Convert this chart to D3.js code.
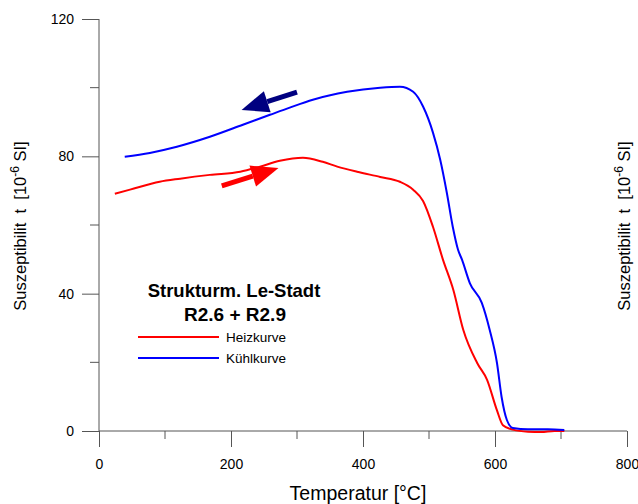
<!DOCTYPE html>
<html>
<head>
<meta charset="utf-8">
<script src="https://cdn.jsdelivr.net/npm/d3@7"></script>
<style>
  body { margin: 0; background: #fff; }
  svg { font-family: "Liberation Sans", Arial, sans-serif; }
  text { white-space: pre; }
</style>
</head>
<body>
<div id="vis"></div>
<script>
// Frame constants
const FRAME_WIDTH = 638;
const FRAME_HEIGHT = 504;
const MARGINS = {left: 99, right: 11, top: 19, bottom: 73};

// Data: heating curve (red)
const heatTemp = [24, 47, 92, 123, 168, 214, 244, 274, 309, 339, 361, 391, 426, 456, 476, 491,
                  506, 521, 537, 552, 573, 588, 603, 612, 627, 650, 670, 690, 705];
const heatSusc = [69.1, 70.3, 72.6, 73.5, 74.6, 75.5, 77, 78.7, 79.6, 78.4, 77, 75.5, 74, 72.6, 70.3, 67,
                  59.5, 50, 41, 29.4, 19.8, 14.9, 6, 1.7, 0.4, -0.2, -0.3, 0, 0];

// Data: cooling curve (blue)
const coolTemp = [39, 77, 118, 168, 218, 259, 289, 324, 376, 426, 456, 476, 491, 506, 517, 527,
                  536, 544, 550, 562, 580, 592, 603, 610, 618, 627, 650, 680, 705];
const coolSusc = [79.9, 81, 82.8, 85.7, 89.2, 92.1, 94.2, 96.5, 98.8, 100, 100.3, 98.8, 94.5, 86.9, 79, 69.4,
                  59.5, 52.8, 49.9, 43, 37.3, 29.4, 19.8, 9.9, 3.2, 0.9, 0.5, 0.5, 0.3];

// Tick values
const xTicks = [0, 200, 400, 600, 800];
const xMinor = [100, 300, 500, 700];
const yTicks = [0, 40, 80, 120];
const yMinor = [20, 60, 100];

// Direction arrows [tailT, tailS, tipT, tipS]
const coolArrow = [300, 98.7, 216, 93.5];
const heatArrow = [186, 71.4, 272, 76.6];

const VIS_WIDTH = FRAME_WIDTH - MARGINS.left - MARGINS.right;
const VIS_HEIGHT = FRAME_HEIGHT - MARGINS.top - MARGINS.bottom;

const FRAME = d3.select("#vis")
  .append("svg")
    .attr("width", FRAME_WIDTH)
    .attr("height", FRAME_HEIGHT);

const X_SCALE = d3.scaleLinear().domain([0, 800]).range([MARGINS.left, MARGINS.left + VIS_WIDTH]);
const Y_SCALE = d3.scaleLinear().domain([0, 120]).range([MARGINS.top + VIS_HEIGHT, MARGINS.top]);

const AXIS_COLOR = "#555";

// X axis
const xAxis = FRAME.append("g")
  .attr("transform", "translate(0," + Y_SCALE(0) + ")")
  .call(d3.axisBottom(X_SCALE).tickValues(xTicks).tickSize(16).tickPadding(12));
xAxis.selectAll(".tick line").attr("stroke", AXIS_COLOR);
xAxis.select(".domain").attr("stroke", AXIS_COLOR).attr("d", "M" + X_SCALE(0) + ",0H" + X_SCALE(800));
xAxis.selectAll("text").attr("font-size", "14px").attr("font-family", "Liberation Sans, Arial").attr("fill", "#000");
xAxis.selectAll(".minor")
  .data(xMinor)
  .enter()
  .append("line")
    .attr("x1", (d) => X_SCALE(d))
    .attr("x2", (d) => X_SCALE(d))
    .attr("y1", 0)
    .attr("y2", 8)
    .attr("stroke", AXIS_COLOR);

// Y axis
const yAxis = FRAME.append("g")
  .attr("transform", "translate(" + X_SCALE(0) + ",0)")
  .call(d3.axisLeft(Y_SCALE).tickValues(yTicks).tickSize(17).tickPadding(8));
yAxis.selectAll(".tick line").attr("stroke", AXIS_COLOR);
yAxis.select(".domain").attr("stroke", AXIS_COLOR).attr("d", "M0," + Y_SCALE(120) + "V" + Y_SCALE(0));
yAxis.selectAll("text").attr("font-size", "14px").attr("font-family", "Liberation Sans, Arial").attr("fill", "#000");
yAxis.selectAll(".minor")
  .data(yMinor)
  .enter()
  .append("line")
    .attr("x1", -9)
    .attr("x2", 0)
    .attr("y1", (d) => Y_SCALE(d))
    .attr("y2", (d) => Y_SCALE(d))
    .attr("stroke", AXIS_COLOR);

// Axis titles
FRAME.append("text")
  .attr("x", 358)
  .attr("y", 500)
  .attr("text-anchor", "middle")
  .attr("font-size", "19.5px")
  .text("Temperatur [°C]");

function yTitle(x) {
  const t = FRAME.append("text")
    .attr("transform", "translate(" + x + "," + 226 + ") rotate(-90)")
    .attr("text-anchor", "middle")
    .attr("font-size", "16.5px");
  t.append("tspan").text("Suszeptibilit  t  [10");
  t.append("tspan").attr("dy", -7).attr("font-size", "12px").text("-6");
  t.append("tspan").attr("dy", 7).text(" SI]");
}
yTitle(26);
yTitle(630);

// Curves
const line = d3.line()
  .x((d) => X_SCALE(d[0]))
  .y((d) => Y_SCALE(d[1]))
  .curve(d3.curveMonotoneX);

FRAME.append("path")
  .datum(d3.zip(heatTemp, heatSusc))
  .attr("d", line)
  .attr("fill", "none")
  .attr("stroke", "#ff0000")
  .attr("stroke-width", 2);

FRAME.append("path")
  .datum(d3.zip(coolTemp, coolSusc))
  .attr("d", line)
  .attr("fill", "none")
  .attr("stroke", "#0000ff")
  .attr("stroke-width", 2);

// Arrows
function arrow(a, color) {
  const x1 = X_SCALE(a[0]), y1 = Y_SCALE(a[1]);
  const x2 = X_SCALE(a[2]), y2 = Y_SCALE(a[3]);
  const ang = Math.atan2(y2 - y1, x2 - x1);
  const headLen = 27, headHalf = 11;
  const bx = x2 - headLen * Math.cos(ang), by = y2 - headLen * Math.sin(ang);
  FRAME.append("line")
    .attr("x1", x1).attr("y1", y1)
    .attr("x2", bx).attr("y2", by)
    .attr("stroke", color)
    .attr("stroke-width", 5);
  const pts = [
    [x2, y2],
    [bx + headHalf * Math.sin(ang), by - headHalf * Math.cos(ang)],
    [bx - headHalf * Math.sin(ang), by + headHalf * Math.cos(ang)]
  ];
  FRAME.append("polygon")
    .attr("points", pts.map((p) => p.join(",")).join(" "))
    .attr("fill", color);
}
arrow(coolArrow, "#000080");
arrow(heatArrow, "#ff0000");

// Legend
FRAME.append("text")
  .attr("x", 234)
  .attr("y", 297)
  .attr("text-anchor", "middle")
  .attr("font-size", "18.5px")
  .attr("font-weight", "bold")
  .text("Strukturm. Le-Stadt");
FRAME.append("text")
  .attr("x", 235)
  .attr("y", 321)
  .attr("text-anchor", "middle")
  .attr("font-size", "19px")
  .attr("font-weight", "bold")
  .text("R2.6 + R2.9");

const legendItems = [["Heizkurve", "#ff0000"], ["Kühlkurve", "#0000ff"]];
FRAME.selectAll(".legend")
  .data(legendItems)
  .enter()
  .append("line")
    .attr("x1", 138)
    .attr("x2", 219)
    .attr("y1", (d, i) => 337 + i * 21)
    .attr("y2", (d, i) => 337 + i * 21)
    .attr("stroke", (d) => d[1])
    .attr("stroke-width", 2);
FRAME.selectAll(".legendText")
  .data(legendItems)
  .enter()
  .append("text")
    .attr("x", 226)
    .attr("y", (d, i) => 342 + i * 21)
    .attr("font-size", "13.5px")
    .text((d) => d[0]);
</script>
</body>
</html>
